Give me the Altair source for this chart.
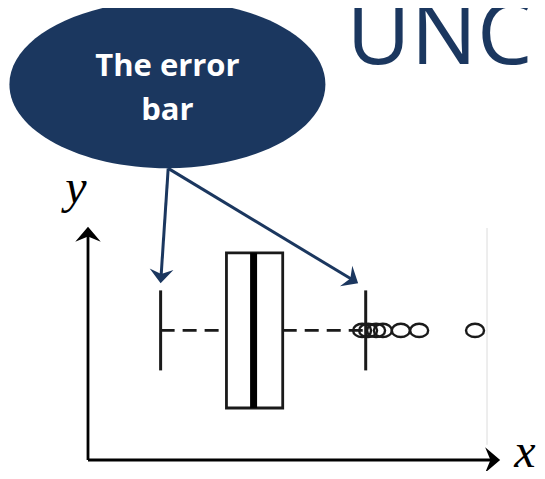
import math
import altair as alt
import pandas as pd

# ---------------- data (x and y in plot units) ----------------
box_stats = ["lower whisker", "Q1", "median", "Q3", "upper whisker"]
box_values = [1.82, 3.47, 4.15, 4.88, 6.96]
outlier_values = [6.87, 7.02, 7.22, 7.39, 7.84, 8.30, 9.70]
callout_lines = ["The error", "bar"]
arrow_targets = [1.82, 6.77]
slide_title = "UNC"
axis_names = ["x", "y"]

# ---------------- layout / style ----------------
W, H = 529, 463
UX, UY = 39.9, 40.0            # px per unit
OX, OY = 80, 452               # chart px of the origin
NAVY = "#1b375f"
xs = alt.Scale(domain=[-OX / UX, (W - OX) / UX], nice=False, zero=False)
ys = alt.Scale(domain=[-(H - OY) / UY, OY / UY], nice=False, zero=False)

YC, BOX_HALF, CAP_HALF = 3.24, 1.94, 1.0
ELLIPSE = "M-1,0 A1,0.53 0 1,0 1,0 A1,0.53 0 1,0 -1,0 Z"
SMALL_ELLIPSE = "M-1,0 A1,0.74 0 1,0 1,0 A1,0.74 0 1,0 -1,0 Z"
ARROW = "M0,0 L-1,-0.85 L-0.65,0 L-1,0.85 Z"


def X(f="x"):
    return alt.X(f"{f}:Q", scale=xs, axis=None)


def Y(f="y"):
    return alt.Y(f"{f}:Q", scale=ys, axis=None)


def angle_of(sx, sy, tx, ty):
    return math.degrees(math.atan2(-(ty - sy) * UY, (tx - sx) * UX)) % 360


def shorten(sx, sy, tx, ty, px):
    dx, dy = (tx - sx) * UX, (ty - sy) * UY
    d = math.hypot(dx, dy)
    k = (d - px) / d
    return sx + (tx - sx) * k, sy + (ty - sy) * k


layers = []

# callout ellipse + text
ell = pd.DataFrame({"x": [1.99], "y": [9.39]})
layers.append(alt.Chart(ell).mark_point(shape=ELLIPSE, filled=True, color=NAVY, opacity=1,
                                        size=316 ** 2, strokeWidth=0).encode(x=X(), y=Y()))
txt = pd.DataFrame({"x": [1.99, 1.99], "y": [9.6, 8.5], "t": callout_lines})
layers.append(alt.Chart(txt).mark_text(font="Open Sans", fontWeight="bold", fontSize=31,
                                       color="white", baseline="alphabetic", align="center")
              .encode(x=X(), y=Y(), text="t:N"))

# slide title
ttl = pd.DataFrame({"x": [6.48], "y": [9.9], "t": [slide_title]})
layers.append(alt.Chart(ttl).mark_text(font="Open Sans", fontSize=88, color=NAVY,
                                       baseline="alphabetic", align="left")
              .encode(x=X(), y=Y(), text="t:N"))

# axes with arrow heads
ax = pd.DataFrame({"x": [0, 0], "x2": [10.15, 0], "y": [0, 0], "y2": [0, 5.6]})
layers.append(alt.Chart(ax).mark_rule(color="black", strokeWidth=2.8)
              .encode(x=X(), x2="x2:Q", y=Y(), y2="y2:Q"))
heads = pd.DataFrame({"x": [10.33, 0], "y": [0, 5.83], "a": [0, 270]})
layers.append(alt.Chart(heads).mark_point(shape=ARROW, filled=True, color="black", opacity=1,
                                          size=900, strokeWidth=0)
              .encode(x=X(), y=Y(), angle=alt.Angle("a:Q", scale=None)))
lab = pd.DataFrame({"x": [10.95, -0.3], "y": [-0.18, 6.43], "t": axis_names})
layers.append(alt.Chart(lab).mark_text(font="Liberation Serif", fontStyle="italic", fontSize=48,
                                       color="black", baseline="alphabetic", align="center")
              .encode(x=X(), y=Y(), text="t:N"))

# faint plot border on the right
brd = pd.DataFrame({"x": [10.0], "y": [0.38], "y2": [5.8]})
layers.append(alt.Chart(brd).mark_rule(color="#dcdcdc", strokeWidth=1)
              .encode(x=X(), y=Y(), y2="y2:Q"))

# box plot
lo, q1, med, q3, hi = box_values
caps = pd.DataFrame({"x": [lo, hi], "y": [YC - CAP_HALF] * 2, "y2": [YC + CAP_HALF] * 2})
layers.append(alt.Chart(caps).mark_rule(color="#1a1a1a", strokeWidth=3)
              .encode(x=X(), y=Y(), y2="y2:Q"))
wh = pd.DataFrame({"x": [lo, q3], "x2": [q1, hi], "y": [YC, YC]})
layers.append(alt.Chart(wh).mark_rule(color="#1a1a1a", strokeWidth=2.6, strokeDash=[14, 8])
              .encode(x=X(), x2="x2:Q", y=Y()))
box = pd.DataFrame({"x": [q1], "x2": [q3], "y": [YC - BOX_HALF], "y2": [YC + BOX_HALF]})
layers.append(alt.Chart(box).mark_rect(fill="white", stroke="#1a1a1a", strokeWidth=2.8)
              .encode(x=X(), x2="x2:Q", y=Y(), y2="y2:Q"))
md = pd.DataFrame({"x": [med], "y": [YC - BOX_HALF], "y2": [YC + BOX_HALF]})
layers.append(alt.Chart(md).mark_rule(color="black", strokeWidth=7)
              .encode(x=X(), y=Y(), y2="y2:Q"))
out = pd.DataFrame({"x": outlier_values, "y": [YC] * len(outlier_values)})
layers.append(alt.Chart(out).mark_point(shape=SMALL_ELLIPSE, filled=False, color="#1a1a1a",
                                        opacity=1, size=18 ** 2, strokeWidth=2.4)
              .encode(x=X(), y=Y()))

# callout arrows
SX, SY = 2.01, 7.29
TY = 4.42
rows, hrows = [], []
for tx in arrow_targets:
    ex, ey = shorten(SX, SY, tx, TY, 8)
    rows.append({"x": SX, "y": SY, "x2": ex, "y2": ey})
    hrows.append({"x": tx, "y": TY, "a": angle_of(SX, SY, tx, TY)})
layers.append(alt.Chart(pd.DataFrame(rows)).mark_rule(color=NAVY, strokeWidth=3)
              .encode(x=X(), x2="x2:Q", y=Y(), y2="y2:Q"))
layers.append(alt.Chart(pd.DataFrame(hrows)).mark_point(shape=ARROW, filled=True, color=NAVY,
                                                        opacity=1, size=784, strokeWidth=0)
              .encode(x=X(), y=Y(), angle=alt.Angle("a:Q", scale=None)))

chart = alt.layer(*layers).properties(
    width=W, height=H, padding=0, autosize=alt.AutoSizeParams(type="none")
).configure_view(stroke=None)

chart.save("out.html", embed_options={"renderer": "svg", "actions": False})
